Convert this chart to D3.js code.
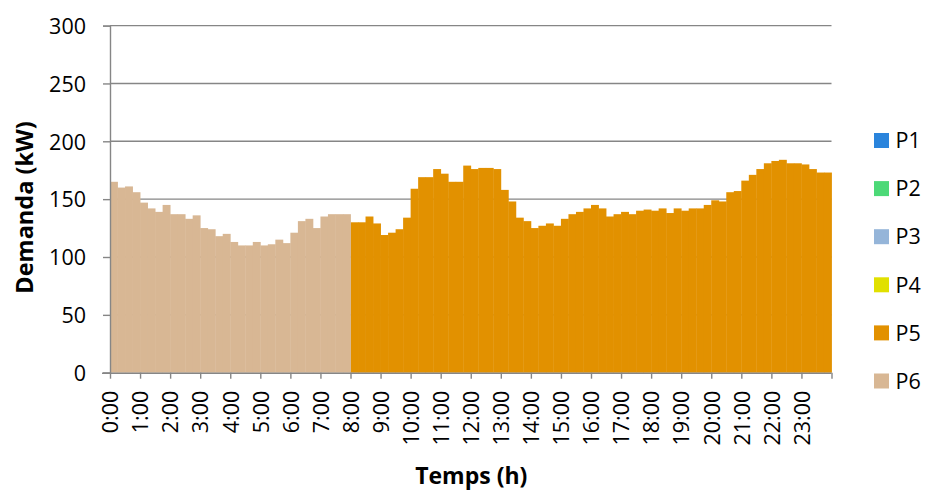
<!DOCTYPE html>
<html><head><meta charset="utf-8">
<script src="https://cdn.jsdelivr.net/npm/d3@7"></script>
<style>
body{margin:0;background:#fff}
svg{display:block}
text{font-family:"Open Sans",Lato,sans-serif;fill:#000}
</style>
</head><body>
<svg id="chart" width="925" height="491"></svg>
<script>
// Tariff periods and their colours
const seriesNames = ["P1", "P2", "P3", "P4", "P5", "P6"];
const seriesColors = ["#2a84dc", "#4cd977", "#95b5d9", "#e1e000", "#e29100", "#d8b794"];

// Quarter-hour demand (kW), 0:00–7:45 in period P6
const p6Values = [165,160,161,156,147,142,139,145,137,137,133,136,125,124,118,120,
                  113,110,110,113,110,111,115,112,121,131,133,125,135,137,137,137];
// Quarter-hour demand (kW), 8:00–23:45 in period P5
const p5Values = [130,130,135,129,119,121,124,134,159,169,169,176,172,165,165,179,
                  176,177,177,176,158,148,134,131,125,127,129,127,133,137,139,142,
                  145,142,135,137,139,137,140,141,140,142,138,142,140,142,142,145,
                  149,148,156,157,166,171,176,181,183,184,181,181,180,176,173,173];
const hourTicks = d3.range(25);
const yTicks = [0, 50, 100, 150, 200, 250, 300];

const rows = d3.range(96).map(i => ({
  q: i,
  P1: 0, P2: 0, P3: 0, P4: 0,
  P5: i >= 32 ? p5Values[i - 32] : 0,
  P6: i < 32 ? p6Values[i] : 0
}));
const stacked = d3.stack().keys(seriesNames)(rows);

const svg = d3.select("#chart");
const plotLeft = 110, plotRight = 831.5, plotTop = 25.6, plotBottom = 372.7;
const axisGrey = "#868686";

const x = d3.scaleBand().domain(d3.range(96)).range([plotLeft, plotRight]).padding(0);
const xHour = d3.scaleLinear().domain([0, 24]).range([plotLeft, plotRight]);
const y = d3.scaleLinear().domain([0, 300]).range([plotBottom, plotTop]);
const color = d3.scaleOrdinal().domain(seriesNames).range(seriesColors);

// gridlines
svg.append("g").selectAll("line").data(yTicks.filter(d => d > 0)).join("line")
  .attr("x1", plotLeft).attr("x2", plotRight)
  .attr("y1", d => y(d)).attr("y2", d => y(d))
  .attr("stroke", axisGrey).attr("stroke-width", 1.4);

// stacked bars
svg.append("g").selectAll("g").data(stacked).join("g")
  .attr("fill", d => color(d.key))
  .selectAll("rect").data(d => d.filter(s => s[1] > s[0])).join("rect")
  .attr("x", d => x(d.data.q))
  .attr("width", x.bandwidth() + 0.4)
  .attr("y", d => y(d[1]))
  .attr("height", d => y(d[0]) - y(d[1]));

// y axis
const yAxis = svg.append("g").attr("transform", `translate(${plotLeft},0)`)
  .call(d3.axisLeft(y).tickValues(yTicks).tickSize(7).tickPadding(17));
yAxis.select(".domain").attr("stroke", axisGrey).attr("stroke-width", 1.4);
yAxis.selectAll(".tick line").attr("stroke", axisGrey).attr("stroke-width", 1.4);
yAxis.selectAll("text").style("font-size", "21.5px").style("font-family", "Open Sans")
  .attr("dy", "0.36em");

// x axis
const xAxis = svg.append("g").attr("transform", `translate(0,${plotBottom})`)
  .call(d3.axisBottom(xHour).tickValues(hourTicks).tickSize(6)
    .tickFormat(h => h < 24 ? h + ":00" : ""));
xAxis.select(".domain").attr("stroke", axisGrey).attr("stroke-width", 1.4)
  .attr("d", `M${plotLeft - 8},0.5H${plotRight}`);
xAxis.selectAll(".tick line").attr("stroke", axisGrey).attr("stroke-width", 1.4);
xAxis.selectAll("text")
  .style("font-size", "21.5px").style("font-family", "Open Sans")
  .attr("text-anchor", "end")
  .attr("transform", "rotate(-90)")
  .attr("x", -18).attr("y", 0).attr("dy", "0.36em");

// axis titles
svg.append("text")
  .attr("transform", `translate(33,207.5) rotate(-90)`)
  .attr("text-anchor", "middle")
  .style("font-size", "23.5px").style("font-weight", "bold")
  .text("Demanda (kW)");
svg.append("text")
  .attr("x", 471.3).attr("y", 484.3)
  .attr("text-anchor", "middle")
  .style("font-size", "23px").style("font-weight", "bold")
  .text("Temps (h)");

// legend
const legend = svg.append("g").selectAll("g").data(seriesNames).join("g")
  .attr("transform", (d, i) => `translate(874,${140.5 + i * 48.1})`);
legend.append("rect").attr("x", 0).attr("y", -7.5).attr("width", 15).attr("height", 15)
  .attr("fill", d => color(d));
legend.append("text").attr("x", 21.5).attr("dy", "0.36em")
  .style("font-size", "21.5px").text(d => d);
</script>
</body></html>
